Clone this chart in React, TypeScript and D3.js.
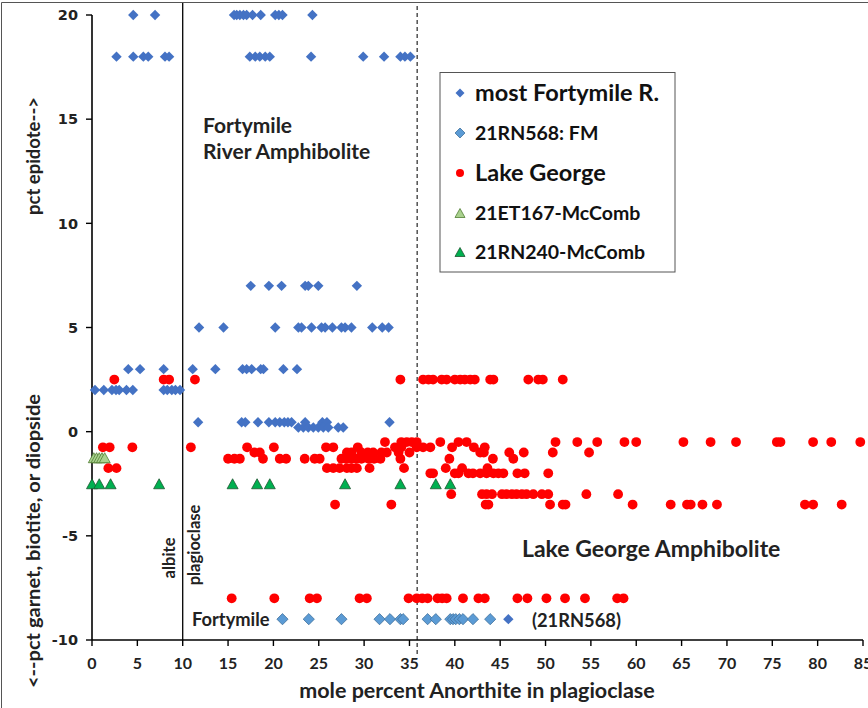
import React from "react";
import * as d3 from "d3";

// ---- data: mole % anorthite (x) vs. pct epidote (+) / garnet, biotite, diopside (-) ----
const fortymileEp20 = [4.55, 6.95, 15.66, 15.95, 16.3, 16.7, 17.05, 17.7, 18.6, 20.2, 20.6, 21.0, 24.3];
const fortymileEp18 = [2.7, 4.55, 5.66, 6.2, 8.05, 8.5, 17.4, 18.0, 18.5, 19.1, 19.6, 24.15, 29.9, 32.2, 34.0, 34.5, 35.1];
const fortymileEp7 = [17.5, 19.5, 20.9, 23.5, 23.85, 24.95, 29.2];
const fortymileEp5 = [11.8, 14.5, 20.2, 22.75, 23.1, 24.2, 25.3, 25.7, 26.5, 27.5, 27.9, 28.6, 30.9, 32.0, 32.7];
const fortymileEp3 = [4.0, 5.3, 7.9, 11.1, 13.6, 16.6, 17.05, 17.6, 18.6, 18.9, 21.1, 22.6];
const fortymileEp2 = [0.33, 1.3, 2.2, 2.65, 3.0, 3.8, 4.5, 7.9, 8.3, 8.8, 9.2, 9.7];
const fortymileEp05 = [11.7, 16.5, 16.9, 18.3, 19.5, 20.2, 20.7, 21.2, 21.6, 22.0, 23.5, 25.4, 25.9, 32.8];
const fortymileEp02 = [22.75, 23.3, 23.85, 24.4, 24.95, 25.5, 26.05, 27.15, 27.7];
const fortymileMinus9 = [45.9];

const rn568Minus9 = [21.0, 23.9, 27.5, 31.7, 32.85, 34.0, 34.3, 37.0, 37.9, 39.5, 39.8, 40.1, 40.5, 40.9, 42.0, 43.9];

const lakeGeorge2_5 = [2.46, 7.9, 8.5, 11.35, 34.0, 36.5, 37.1, 37.6, 38.55, 39.1, 40.0, 40.6, 41.1, 41.7, 42.2, 43.9, 44.25, 48.1, 49.2, 49.7, 51.9];
const lakeGeorgeM0_5 = [32.3, 34.1, 34.7, 35.25, 35.8, 38.4, 40.4, 41.3, 51.1, 53.5, 55.7, 58.7, 60.0, 65.2, 68.2, 71.0, 75.5, 75.9, 79.5, 81.5, 84.7];
const lakeGeorgeM0_75 = [1.2, 1.95, 4.45, 10.9, 17.1, 20.05, 25.8, 26.6, 29.3, 33.4, 34.1, 35.8, 36.5, 37.3, 39.7, 42.1, 43.3];
const lakeGeorgeM1 = [17.9, 18.5, 28.1, 28.6, 29.7, 30.4, 31.0, 31.9, 32.5, 33.8, 35.0, 42.8, 43.2, 46.0, 47.6, 50.8, 54.8];
const lakeGeorgeM1_3 = [15.0, 15.7, 16.3, 18.85, 20.7, 21.4, 23.45, 24.55, 25.1, 27.5, 28.0, 28.6, 29.1, 29.7, 30.5, 31.1, 31.8, 34.0, 39.4, 44.2, 46.45];
const lakeGeorgeM1_75 = [1.8, 2.7, 25.9, 26.6, 27.3, 28.1, 28.6, 29.2, 30.6, 34.4, 39.0, 40.8, 43.6];
const lakeGeorgeM2 = [37.3, 37.6, 40.0, 40.4, 41.5, 42.0, 42.8, 43.5, 44.25, 44.8, 45.35, 46.9, 47.7, 50.3];
const lakeGeorgeM3 = [39.6, 43.0, 43.5, 44.1, 45.2, 45.7, 46.3, 46.8, 47.4, 47.9, 48.65, 49.6, 50.3, 54.5, 58.0];
const lakeGeorgeM3_5 = [26.8, 33.0, 43.4, 43.7, 50.5, 51.9, 52.2, 59.6, 63.8, 65.6, 66.0, 67.3, 68.9, 78.6, 79.5, 82.65];
const lakeGeorgeM8 = [15.4, 20.1, 24.0, 24.8, 29.5, 30.3, 34.9, 35.8, 36.4, 37.0, 38.1, 38.6, 39.1, 40.9, 42.6, 43.3, 46.9, 48.0, 50.1, 52.15, 54.35, 57.9, 58.6];

const et167M1_25 = [0.2, 0.5, 0.8, 1.1, 1.4];
const rn240M2_5 = [0.0, 0.8, 2.05, 7.4, 15.5, 18.2, 19.6, 27.9, 34.0, 37.9, 39.5];

const xTicks = d3.range(0, 86, 5);
const yTicks = d3.range(-10, 21, 5);

const legendLabels = ["most Fortymile R.", "21RN568: FM", "Lake George", "21ET167-McComb", "21RN240-McComb"];

type Pt = [number, number];
const rows = (pct: number, an: number[]): Pt[] => an.map((a) => [a, pct]);

const fortymile: Pt[] = [
  ...rows(20, fortymileEp20),
  ...rows(18, fortymileEp18),
  ...rows(7, fortymileEp7),
  ...rows(5, fortymileEp5),
  ...rows(3, fortymileEp3),
  ...rows(2, fortymileEp2),
  ...rows(0.45, fortymileEp05),
  ...rows(0.2, fortymileEp02),
  ...rows(-9, fortymileMinus9),
];
const rn568: Pt[] = rows(-9, rn568Minus9);
const lakeGeorge: Pt[] = [
  ...rows(2.5, lakeGeorge2_5),
  ...rows(-0.5, lakeGeorgeM0_5),
  ...rows(-0.75, lakeGeorgeM0_75),
  ...rows(-1, lakeGeorgeM1),
  ...rows(-1.3, lakeGeorgeM1_3),
  ...rows(-1.75, lakeGeorgeM1_75),
  ...rows(-2, lakeGeorgeM2),
  ...rows(-3, lakeGeorgeM3),
  ...rows(-3.5, lakeGeorgeM3_5),
  ...rows(-8, lakeGeorgeM8),
];
const et167: Pt[] = rows(-1.25, et167M1_25);
const rn240: Pt[] = rows(-2.5, rn240M2_5);

const W = 868;
const H = 708;
const x = d3.scaleLinear().domain([0, 85]).range([92, 863]);
const y = d3.scaleLinear().domain([-10, 20]).range([640, 15]);

const FONT = "Lato, 'Open Sans', sans-serif";

const diamond = (s: number) => `M0,${-s}L${s},0L0,${s}L${-s},0Z`;
const triangle = (w: number, h: number) => `M0,${-h / 2}L${w / 2},${h / 2}L${-w / 2},${h / 2}Z`;

const COLORS = {
  fortymile: "#4472C4",
  rn568: "#5B9BD5",
  rn568Edge: "#41719C",
  lake: "#FF0000",
  et167: "#A9D18E",
  et167Edge: "#507E32",
  rn240: "#00B050",
  rn240Edge: "#1E5631",
};

function Diamond({ cx, cy, s, fill, stroke }: { cx: number; cy: number; s: number; fill: string; stroke?: string }) {
  return (
    <path
      d={diamond(s)}
      transform={`translate(${cx},${cy})`}
      fill={fill}
      stroke={stroke ?? "none"}
      strokeWidth={stroke ? 0.8 : 0}
    />
  );
}

function Tri({ cx, cy, fill, stroke, w = 11, h = 10 }: { cx: number; cy: number; fill: string; stroke: string; w?: number; h?: number }) {
  return <path d={triangle(w, h)} transform={`translate(${cx},${cy})`} fill={fill} stroke={stroke} strokeWidth={0.8} />;
}

export default function App() {
  const legendX = 460;
  const legendYs = [93, 133, 173, 213, 252];
  const legendSizes = [23.5, 19.5, 23.5, 19.5, 19.5];

  return (
    <svg
      width={W}
      height={H}
      viewBox={`0 0 ${W} ${H}`}
      style={{ position: "absolute", left: 0, top: 0, background: "#fff" }}
    >
      <rect x={0} y={0} width={W} height={H} fill="#fff" />
      {/* figure frame */}
      <line x1={1.5} y1={2.5} x2={W} y2={2.5} stroke="#555" strokeWidth={1} />
      <line x1={1.5} y1={2.5} x2={1.5} y2={H} stroke="#555" strokeWidth={1} />

      {/* albite / plagioclase boundary and dashed reference line */}
      <line x1={x(10)} y1={3} x2={x(10)} y2={y(-10)} stroke="#000" strokeWidth={1.3} />
      <line
        x1={x(35.85)}
        y1={6}
        x2={x(35.85)}
        y2={656}
        stroke="#444"
        strokeWidth={1.4}
        strokeDasharray="4,3"
      />

      {/* axes */}
      <line x1={x(0)} y1={y(20)} x2={x(0)} y2={y(-10)} stroke="#000" strokeWidth={1.6} />
      <line x1={x(0)} y1={y(-10)} x2={x(85)} y2={y(-10)} stroke="#000" strokeWidth={1.6} />
      {yTicks.map((t) => (
        <g key={`yt${t}`}>
          <line x1={x(0) - 6} x2={x(0)} y1={y(t)} y2={y(t)} stroke="#000" strokeWidth={1.4} />
          <text
            x={x(0) - 14}
            y={y(t)}
            dy="0.36em"
            textAnchor="end"
            fontFamily="'DejaVu Sans', sans-serif"
            fontWeight="bold"
            fontSize={14.5}
            fill="#222"
          >
            {t}
          </text>
        </g>
      ))}
      {xTicks.map((t) => (
        <g key={`xt${t}`}>
          <line x1={x(t)} x2={x(t)} y1={y(-10)} y2={y(-10) + 6} stroke="#000" strokeWidth={1.4} />
          <text x={x(t)} y={669} textAnchor="middle" fontFamily={FONT} fontWeight="bold" fontSize={16} fill="#222">
            {t}
          </text>
        </g>
      ))}

      {/* axis titles */}
      <text x={477} y={698} textAnchor="middle" fontFamily={FONT} fontWeight="bold" fontSize={21.5} fill="#222">
        mole percent Anorthite in plagioclase
      </text>
      <text
        transform="translate(40,156) rotate(-90)"
        textAnchor="middle"
        fontFamily={FONT}
        fontWeight="bold"
        fontSize={18}
        textLength={118}
        lengthAdjust="spacingAndGlyphs"
        fill="#222"
      >
        pct epidote--&gt;
      </text>
      <text
        transform="translate(40,541) rotate(-90)"
        textAnchor="middle"
        fontFamily={FONT}
        fontWeight="bold"
        fontSize={19}
        textLength={294}
        lengthAdjust="spacingAndGlyphs"
        fill="#222"
      >
        &lt;--pct garnet, biotite, or diopside
      </text>

      {/* region annotations */}
      <text x={203} y={133} fontFamily={FONT} fontWeight="bold" fontSize={21} fill="#222">
        Fortymile
      </text>
      <text x={203} y={159} fontFamily={FONT} fontWeight="bold" fontSize={21} fill="#222">
        River Amphibolite
      </text>
      <text x={522} y={557} fontFamily={FONT} fontWeight="bold" fontSize={23} fill="#222">
        Lake George Amphibolite
      </text>
      <text
        transform="translate(175,558) rotate(-90)"
        textAnchor="middle"
        fontFamily={FONT}
        fontWeight="bold"
        fontSize={16.5}
        fill="#222"
      >
        albite
      </text>
      <text
        transform="translate(200,545) rotate(-90)"
        textAnchor="middle"
        fontFamily={FONT}
        fontWeight="bold"
        fontSize={16.5}
        fill="#222"
      >
        plagioclase
      </text>
      <text x={192} y={626} fontFamily={FONT} fontWeight="bold" fontSize={18.3} fill="#222">
        Fortymile
      </text>
      <text x={532} y={627} fontFamily={FONT} fontWeight="bold" fontSize={18.3} fill="#222">
        (21RN568)
      </text>

      {/* series */}
      {fortymile.map(([a, p], i) => (
        <Diamond key={`f${i}`} cx={x(a)} cy={y(p)} s={5.2} fill={COLORS.fortymile} />
      ))}
      {rn568.map(([a, p], i) => (
        <Diamond key={`r${i}`} cx={x(a)} cy={y(p)} s={5.6} fill={COLORS.rn568} stroke={COLORS.rn568Edge} />
      ))}
      {lakeGeorge.map(([a, p], i) => (
        <circle key={`l${i}`} cx={x(a)} cy={y(p)} r={4.9} fill={COLORS.lake} />
      ))}
      {et167.map(([a, p], i) => (
        <Tri key={`e${i}`} cx={x(a)} cy={y(p)} fill={COLORS.et167} stroke={COLORS.et167Edge} />
      ))}
      {rn240.map(([a, p], i) => (
        <Tri key={`g${i}`} cx={x(a)} cy={y(p)} fill={COLORS.rn240} stroke={COLORS.rn240Edge} />
      ))}

      {/* legend */}
      <rect x={440} y={72.5} width={235} height={199.5} fill="#fff" stroke="#555" strokeWidth={1} />
      <Diamond cx={legendX} cy={legendYs[0]} s={4.5} fill={COLORS.fortymile} />
      <Diamond cx={legendX} cy={legendYs[1]} s={5} fill={COLORS.rn568} stroke={COLORS.rn568Edge} />
      <circle cx={legendX} cy={legendYs[2]} r={4} fill={COLORS.lake} />
      <Tri cx={legendX} cy={legendYs[3]} fill={COLORS.et167} stroke={COLORS.et167Edge} w={10} h={9} />
      <Tri cx={legendX} cy={legendYs[4]} fill={COLORS.rn240} stroke={COLORS.rn240Edge} w={10} h={9} />
      {legendLabels.map((lab, i) => (
        <text
          key={lab}
          x={475}
          y={legendYs[i]}
          dy="0.36em"
          fontFamily={FONT}
          fontWeight="bold"
          fontSize={legendSizes[i]}
          fill="#111"
        >
          {lab}
        </text>
      ))}
    </svg>
  );
}
